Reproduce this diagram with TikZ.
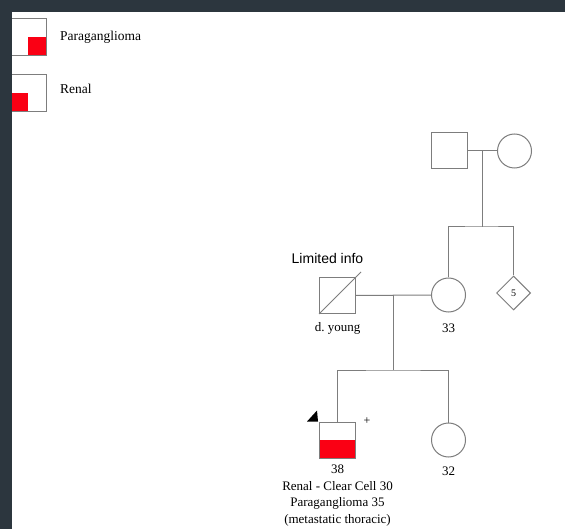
\documentclass[tikz,border=0pt]{standalone}
\usepackage{fontspec}
\setmainfont{Liberation Serif}
\newfontfamily\labelsans{Liberation Sans}
\usetikzlibrary{shapes.geometric, calc}
\definecolor{frame}{RGB}{44,54,62}
\definecolor{affected}{RGB}{250,0,20}
\definecolor{pedline}{RGB}{125,125,125}

\begin{document}
\begin{tikzpicture}[x=1pt, y=-1pt,
        person/.style={draw=pedline, line width=1pt, fill=white, inner sep=0pt},
        male/.style={person, rectangle, minimum size=36pt},
        female/.style={person, circle, minimum size=34pt},
        unknown/.style={person, diamond, minimum size=34pt, font=\fontsize{10}{12}\selectfont},
        legendbox/.style={person, rectangle, minimum size=37pt},
        nametag/.style={inner sep=0pt, align=center, font=\fontsize{13}{16.5}\selectfont},
        pedge/.style={draw=pedline, line width=1pt},
        lowright/.style={path picture={\fill[affected] (path picture bounding box.center) rectangle (path picture bounding box.south east);}},
        lowleft/.style={path picture={\fill[affected] (path picture bounding box.west) rectangle (path picture bounding box.south);}},
        lowhalf/.style={path picture={\fill[affected] (path picture bounding box.west) rectangle (path picture bounding box.south east);}},
    ]
    \path[use as bounding box] (0,0) rectangle (565,529);
    \fill[white] (0,0) rectangle (565,529);

    % legend
    \node[legendbox, lowright] (legpara) at (27.5,37.5) {};
    \node[legendbox, lowleft] (legrenal) at (27.5,93) {};
    \node[nametag, anchor=west, font=\fontsize{13.5}{16}\selectfont] (legparatxt) at (60,37) {Paraganglioma};
    \node[nametag, anchor=west, font=\fontsize{13.5}{16}\selectfont] (legrenaltxt) at (60,89) {Renal};

    % grandparents
    \node[male] (gf) at (449.5,151) {};
    \node[female] (gm) at (514.5,151) {};
    \coordinate (gmid) at ($(gf.east)!0.5!(gm.west)$);
    \coordinate (gsib) at (gmid |- 0,227);

    % parents and aunt
    \node[male] (dy) at (337.5,295.5) {};
    \node[female] (mo) at (448.5,295) {};
    \node[unknown] (sib5) at (513.5,293) {5};
    \node[font=\labelsans\fontsize{14}{16}\selectfont, inner sep=0pt] (limited) at (327.5,258) {Limited info};
    \node[nametag] (dytxt) at (337.5,328) {d.\ young};
    \node[nametag] (motxt) at (448.5,328) {33};
    \coordinate (pmid) at ($(dy.east)!0.5!(mo.west)$);
    \coordinate (psib) at (pmid |- 0,370);

    % children
    \node[male, lowhalf] (pro) at (337.5,440) {};
    \node[female] (si) at (448.5,440) {};
    \node[nametag, anchor=north] (protxt) at (337.5,465) {38\\Renal - Clear Cell 30\\Paraganglioma 35\\(metastatic thoracic)};
    \node[nametag] (sitxt) at (448.5,471) {32};
    \node[inner sep=0pt, font=\fontsize{12}{12}\selectfont] (plus) at ($(pro.north east)+(11,0)$) {+};

    \draw[pedge] (gf) -- (gm);
    \draw[pedge] (gmid) -- (gsib);
    \draw[pedge] (mo.north) |- (gsib) -| (sib5.north);
    \draw[pedge] (dy) -- (mo);
    \draw[pedge] (dy.south west) -- ($(dy.north east)+(5,-5)$);
    \draw[pedge] (pmid) -- (psib);
    \draw[pedge] (pro.north) |- (psib) -| (si.north);
    \fill ($(pro.north west)+(-1,0)$) -- ++(-11,0) -- ++(10,-11) -- cycle;

    % page frame
    \fill[frame] (0,0) rectangle (12,529);
    \fill[frame] (0,0) rectangle (565,12);
\end{tikzpicture}
\end{document}
